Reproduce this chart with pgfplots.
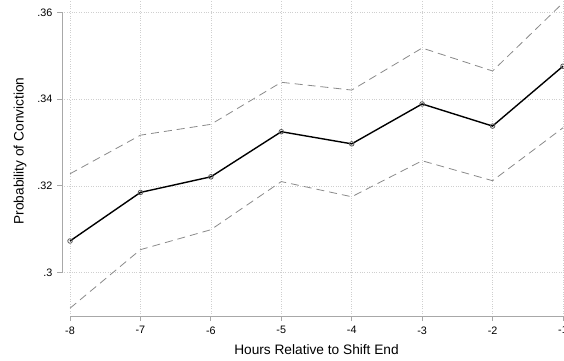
\documentclass[border=0pt]{standalone}
\usepackage{pgfplots}
\pgfplotsset{compat=1.18}
\usepackage{fontspec}
\setmainfont{Liberation Sans}
\definecolor{axgray}{HTML}{A8A8A8}
\definecolor{gridgray}{HTML}{CFCFCF}
\definecolor{ciGray}{HTML}{8A8A8A}
\begin{document}
\begin{tikzpicture}[x=1pt,y=1pt]
\begin{axis}[
  at={(62pt,44pt)}, anchor=south west,
  scale only axis, width=509pt, height=330pt,
  xmin=-8.114, xmax=-0.886, ymin=0.29, ymax=0.3661,
  axis line style={draw=none},
  xtick={-8,-7,-6,-5,-4,-3,-2,-1},
  xticklabels={-8,-7,-6,-5,-4,-3,-2,-1},
  ytick={0.3,0.32,0.34,0.36},
  yticklabels={.3,.32,.34,.36},
  tick align=outside, major tick length=5pt,
  tick style={axgray, line width=0.9pt},
  xtick pos=bottom, ytick pos=left,
  grid=major, major grid style={gridgray, dotted, line width=0.7pt},
  tick label style={font=\fontsize{10.8}{12}\selectfont},
  xticklabel style={yshift=-2pt},
  yticklabel style={anchor=east, xshift=-1pt},
  xlabel={Hours Relative to Shift End},
  ylabel={Probability of Conviction},
  every axis x label/.style={at={(axis description cs:0.5,0)}, yshift=-34pt, anchor=center, font=\fontsize{13.7}{16}\selectfont},
  every axis y label/.style={at={(axis description cs:0,0.5)}, xshift=-42pt, rotate=90, anchor=center, font=\fontsize{13.7}{16}\selectfont},
  after end axis/.code={
    \draw[axgray, line width=0.9pt] (axis cs:-8,0.29) -- (axis cs:-1,0.29);
    \draw[axgray, line width=0.9pt] (axis cs:-8.114,0.3) -- (axis cs:-8.114,0.36);
  },
]
\addplot[ciGray, line width=0.8pt, dash pattern=on 8pt off 5pt] coordinates {
(-8,0.3228) (-7,0.3317) (-6,0.3342) (-5,0.3439) (-4,0.3421) (-3,0.3518) (-2,0.3465) (-1,0.3622)};
\addplot[ciGray, line width=0.8pt, dash pattern=on 8pt off 5pt] coordinates {
(-8,0.2918) (-7,0.3053) (-6,0.3099) (-5,0.3210) (-4,0.3175) (-3,0.3258) (-2,0.3212) (-1,0.3334)};
\addplot[black, line width=1.4pt, mark=o, mark size=2.3pt,
  mark options={draw=black!65, line width=0.8pt, fill=white}] coordinates {
(-8,0.3073) (-7,0.3185) (-6,0.3221) (-5,0.3325) (-4,0.3297) (-3,0.3389) (-2,0.3338) (-1,0.3476)};
\end{axis}
\pgfresetboundingbox
\useasboundingbox (0,0) rectangle (564pt,360pt);
\end{tikzpicture}
\end{document}
